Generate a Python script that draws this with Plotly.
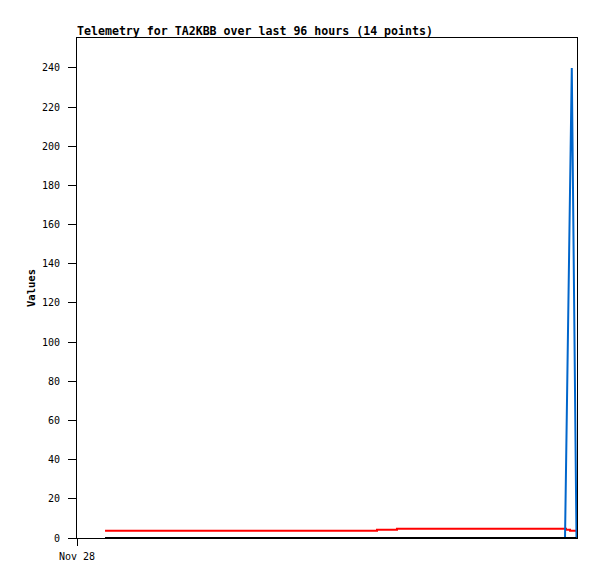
import plotly.graph_objects as go

# telemetry samples (times shared by all channels)
times = ["2024-11-28 05:23", "2024-11-30 09:36", "2024-11-30 13:26",
         "2024-12-01 21:42", "2024-12-01 21:53", "2024-12-01 22:40",
         "2024-12-01 23:00", "2024-12-01 23:54"]
red_values = [3.7, 4.2, 4.75, 4.75, 4.2, 3.7, 3.7, 3.7]
blue_values = [0, 0, 0, 0, None, None, 240, 0]
black_values = [0, 0, 0, 0, 0, 0, 0, 0]

y_ticks = list(range(0, 241, 20))
x_tick_vals = ["2024-11-28 00:00"]
x_tick_text = ["Nov 28"]
x_range = ["2024-11-28 00:00", "2024-12-02 00:00"]

font_family = "DejaVu Sans Mono"

# page body has an 8px margin, so the figure is a little smaller than the window
W, H = 589, 571

fig = go.Figure()

fig.add_trace(go.Scatter(x=times, y=red_values, mode='lines', line=dict(color='#ff0000', width=2, shape='hv'), name='red'))
fig.add_trace(go.Scatter(x=times, y=blue_values, mode='lines', connectgaps=True, line=dict(color='#0066cc', width=2), name='blue'))
fig.add_trace(go.Scatter(x=times, y=black_values, mode='lines', line=dict(color='#000000', width=2, shape='hv'), name='black'))

fig.update_layout(
    width=W, height=H,
    margin=dict(l=69, r=20, t=30, b=41),
    paper_bgcolor='white', plot_bgcolor='white',
    showlegend=False,
    font=dict(family=font_family, size=10, color='black'),
    title=dict(text='Telemetry for TA2KBB over last 96 hours (14 points)',
               font=dict(family=font_family, size=11.6, weight='bold', color='black'),
               x=69 / W, xanchor='left', y=1 - 23 / H, yanchor='middle'),
)

fig.update_xaxes(
    type='date', range=x_range,
    tickmode='array', tickvals=x_tick_vals, ticktext=x_tick_text,
    ticks='outside', ticklen=7, tickcolor='black',
    ticklabelstandoff=2,
    showline=True, linecolor='black', linewidth=1, mirror=True,
    showgrid=False, zeroline=False,
)

fig.update_yaxes(
    range=[0, 255.3],
    tickmode='array', tickvals=y_ticks,
    ticks='outside', ticklen=8, tickcolor='black',
    ticklabelstandoff=6,
    showline=True, linecolor='black', linewidth=1, mirror=True,
    showgrid=False, zeroline=False,
    title=dict(text='Values', font=dict(family=font_family, size=10.5, weight='bold'), standoff=4),
)

fig.write_html("out.html")
